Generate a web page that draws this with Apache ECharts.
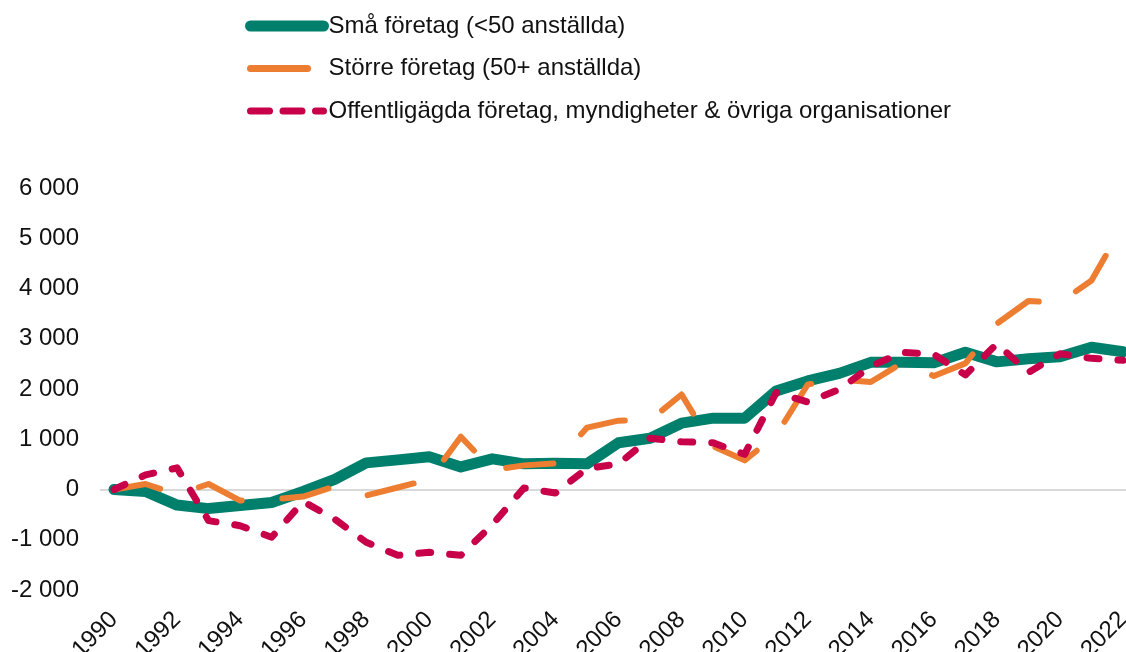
<!DOCTYPE html>
<html><head><meta charset="utf-8">
<script src="https://cdn.jsdelivr.net/npm/echarts@6/dist/echarts.min.js"></script>
<style>html,body{margin:0;padding:0;background:#fff}#c{width:1126px;height:652px}</style>
</head><body><div id="c"></div>
<script>
const years = [1990,1991,1992,1993,1994,1995,1996,1997,1998,1999,2000,2001,2002,2003,2004,2005,2006,2007,2008,2009,2010,2011,2012,2013,2014,2015,2016,2017,2018,2019,2020,2021,2022];
const xTickYears = [1990,1992,1994,1996,1998,2000,2002,2004,2006,2008,2010,2012,2014,2016,2018,2020,2022];
const seriesNames = ['Små företag (<50 anställda)', 'Större företag (50+ anställda)', 'Offentligägda företag, myndigheter & övriga organisationer'];
const smaForetag = [0,-40,-310,-380,-320,-260,-40,200,530,590,650,450,610,510,520,510,930,1020,1320,1420,1420,1960,2160,2310,2530,2530,2520,2730,2540,2600,2640,2830,2740];
const storreForetag = [0,110,-100,110,-220,-200,-140,60,-120,40,200,1050,390,480,520,1230,1370,1380,1890,860,580,1080,2090,2190,2140,2520,2260,2510,3300,3750,3720,4160,5250];
const offentliga = [0,290,430,-620,-720,-950,-240,-590,-1050,-1310,-1250,-1310,-700,30,-70,420,510,1020,950,930,700,1930,1740,1990,2450,2730,2690,2280,2900,2330,2700,2610,2570];
const yMin = -2000, yMax = 6000, yStep = 1000;

const colors = ['#007F6D', '#ED7D31', '#C8004A'];
const pair = arr => years.map((y, i) => [y, arr[i]]);
const fmt = v => { const s = Math.abs(v).toString().replace(/\B(?=(\d{3})+(?!\d))/g, ' '); return (v < 0 ? '-' : '') + s; };
const nTicks = (yMax - yMin) / yStep + 1;
const splitColors = [];
for (let i = 0; i < nTicks; i++) splitColors.push(yMin + i * yStep === 0 ? '#d9d9d9' : 'rgba(0,0,0,0)');

const font = 'Liberation Sans, Arial, sans-serif';
const hidden = { color: 'rgba(0,0,0,0)', borderWidth: 0, opacity: 0 };
const chart = echarts.init(document.getElementById('c'));
chart.setOption({
  animation: false,
  backgroundColor: '#fff',
  grid: { left: 100, right: 0, top: 188, bottom: 62, outerBoundsMode: 'none', containLabel: false },
  legend: {
    orient: 'vertical', left: 240, top: 8,
    itemWidth: 73, itemHeight: 26, itemGap: 16.5,
    textStyle: { fontFamily: font, fontSize: 24, color: '#111', lineHeight: 26 },
    data: [
      { name: seriesNames[0], itemStyle: hidden, lineStyle: { width: 11, cap: 'round', color: colors[0] } },
      { name: seriesNames[1], itemStyle: hidden, lineStyle: { width: 7, cap: 'round', type: [57, 40], color: colors[1] } },
      { name: seriesNames[2], itemStyle: hidden, lineStyle: { width: 7, cap: 'round', type: [19, 13.5], color: colors[2] } }
    ]
  },
  xAxis: {
    type: 'value', min: 1989.556, max: 2022.095,
    axisLine: { show: false }, axisTick: { show: false }, splitLine: { show: false },
    axisLabel: { customValues: xTickYears, rotate: 45, margin: 26, fontFamily: font, fontSize: 24, color: '#111', formatter: v => String(v) }
  },
  yAxis: {
    type: 'value', min: yMin, max: yMax, interval: yStep,
    axisLine: { show: false }, axisTick: { show: false },
    splitLine: { show: true, lineStyle: { color: splitColors, width: 2 } },
    axisLabel: { margin: 21, fontFamily: font, fontSize: 24, color: '#111', formatter: fmt }
  },
  series: [
    { name: seriesNames[0], type: 'line', data: pair(smaForetag), symbol: 'none', color: colors[0],
      lineStyle: { width: 11, color: colors[0], cap: 'round', join: 'round' } },
    { name: seriesNames[1], type: 'line', data: pair(storreForetag), symbol: 'none', color: colors[1],
      lineStyle: { width: 6, color: colors[1], cap: 'round', join: 'round', type: [54, 36] } },
    { name: seriesNames[2], type: 'line', data: pair(offentliga), symbol: 'none', color: colors[2],
      lineStyle: { width: 7, color: colors[2], cap: 'round', join: 'round', type: [12, 19] } }
  ]
});

// Fit the orange dash period so its last visible dash ends partway into the final segment, as in the reference.
(function () {
  const pts = years.map((y, i) => chart.convertToPixel({ gridIndex: 0 }, [y, storreForetag[i]]));
  let s = 0; const cum = [0];
  for (let i = 1; i < pts.length; i++) { s += Math.hypot(pts[i][0] - pts[i - 1][0], pts[i][1] - pts[i - 1][1]); cum.push(s); }
  const n = pts.length - 1;
  const lastSeg = cum[n] - cum[n - 1];
  const sEnd = cum[n - 1] + 0.45 * lastSeg;
  const gap = Math.max(36, (cum[n] - sEnd) + 6);
  const k = Math.round((sEnd + gap) / 90);
  const period = (sEnd + gap) / k;   // k-th dash ends exactly at sEnd
  const dash = period - gap;
  chart.setOption({ series: [{}, { lineStyle: { type: [dash, gap], dashOffset: 0 } }, {}] });
})();
</script></body></html>
